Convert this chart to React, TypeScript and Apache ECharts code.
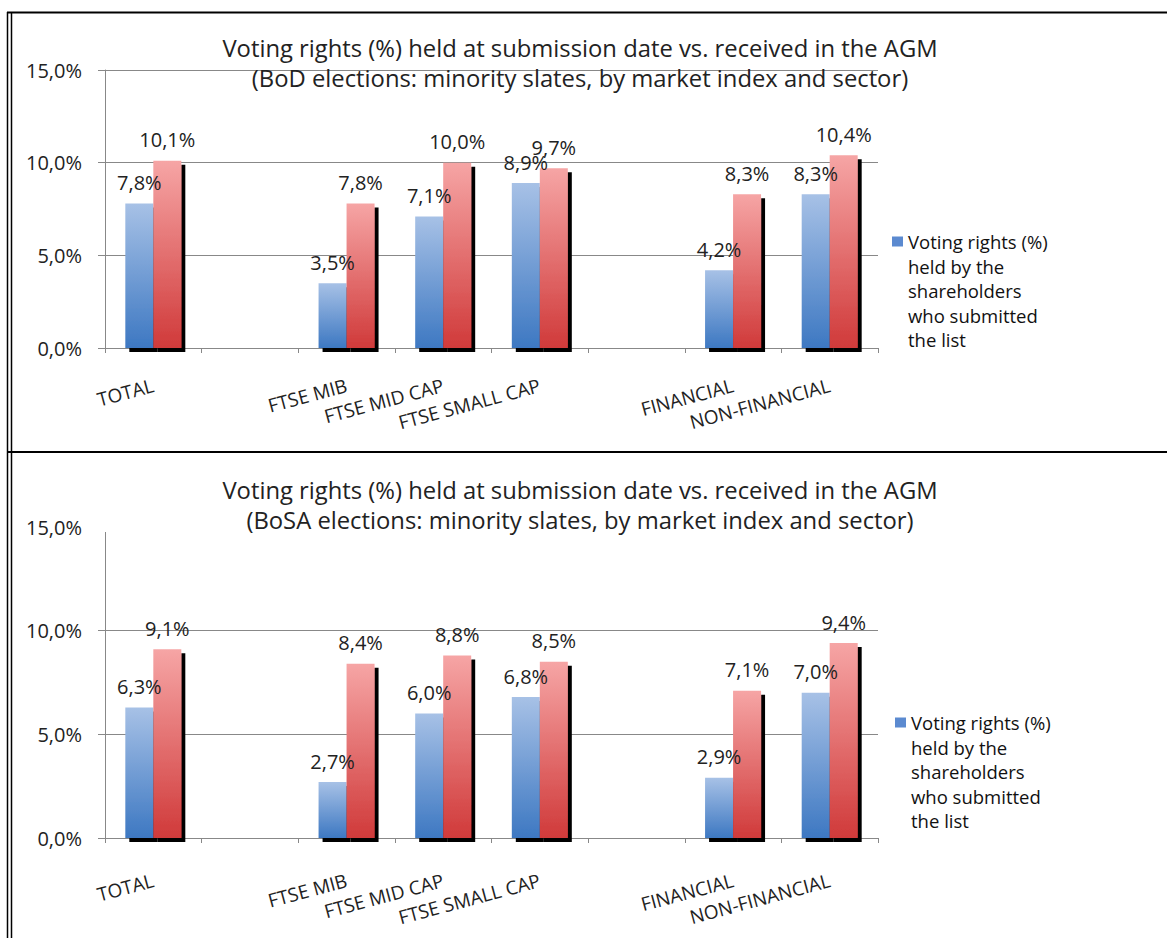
import React, { useEffect, useRef } from "react";
import * as echarts from "echarts";

const categories = ["TOTAL", "", "FTSE MIB", "FTSE MID CAP", "FTSE SMALL CAP", "", "FINANCIAL", "NON-FINANCIAL"];
const bodHeld = [7.8, "-", 3.5, 7.1, 8.9, "-", 4.2, 8.3];
const bodReceived = [10.1, "-", 7.8, 10.0, 9.7, "-", 8.3, 10.4];
const bosaHeld = [6.3, "-", 2.7, 6.0, 6.8, "-", 2.9, 7.0];
const bosaReceived = [9.1, "-", 8.4, 8.8, 8.5, "-", 7.1, 9.4];
const yMin = 0;
const yMax = 15;
const yStep = 5;
const titleMain = "Voting rights (%) held at submission date vs. received in the AGM";
const bodSubtitle = "(BoD elections: minority slates, by market index and sector)";
const bosaSubtitle = "(BoSA elections: minority slates, by market index and sector)";
const heldName = "Voting rights (%) held by the shareholders who submitted the list";
const heldLegendLines = ["Voting rights (%)", "held by the", "shareholders", "who submitted", "the list"];
const receivedName = "Voting rights (%) received in the AGM";

const FONT = "Open Sans";
const TXT = "#222";

const pct = (v: number) => v.toFixed(1).replace(".", ",") + "%";

const blueGrad = () =>
  new echarts.graphic.LinearGradient(0, 0, 0, 1, [
    { offset: 0, color: "#a7c1e6" },
    { offset: 1, color: "#3d78c2" },
  ]);
const redGrad = () =>
  new echarts.graphic.LinearGradient(0, 0, 0, 1, [
    { offset: 0, color: "#f6a5a5" },
    { offset: 1, color: "#d03a3a" },
  ]);

export default function App() {
  const ref = useRef<HTMLDivElement>(null);
  useEffect(() => {
    document.body.style.margin = "0";
    document.body.style.overflow = "hidden";
    const chart = echarts.init(ref.current!, null, { renderer: "svg" });

    const barSeries = (name: string, data: any[], idx: number, grad: any) => ({
      type: "bar",
      name,
      data,
      xAxisIndex: idx,
      yAxisIndex: idx,
      barWidth: 28,
      barGap: "0%",
      itemStyle: {
        color: grad,
        shadowColor: "#000",
        shadowBlur: 0,
        shadowOffsetX: 4,
        shadowOffsetY: 4,
      },
      emphasis: { disabled: true },
      label: {
        show: true,
        position: "top",
        distance: 11,
        fontSize: 20,
        fontFamily: FONT,
        color: TXT,
        formatter: (p: any) => pct(p.value),
      },
    });

    const xAxis = (idx: number, margin: number) => ({
      type: "category",
      gridIndex: idx,
      data: categories,
      axisLine: { lineStyle: { color: "#888", width: 1 } },
      axisTick: { show: true, length: 5, lineStyle: { color: "#888" } },
      axisLabel: {
        interval: 0,
        rotate: 15,
        margin,
        fontSize: 19,
        fontFamily: FONT,
        color: TXT,
      },
    });

    const yAxis = (idx: number) => ({
      type: "value",
      gridIndex: idx,
      min: yMin,
      max: yMax,
      interval: yStep,
      axisLine: { show: true, lineStyle: { color: "#888" } },
      axisTick: { show: true, length: 7, lineStyle: { color: "#888" } },
      splitLine: { lineStyle: { color: "#888", width: 1 } },
      axisLabel: {
        margin: 23,
        fontSize: 20,
        fontFamily: FONT,
        color: TXT,
        formatter: (v: number) => pct(v),
      },
    });

    const legendRich = {
      sq: { width: 11, height: 10, backgroundColor: "#5b8ad0" },
      t: { padding: [0, 0, 0, 5], fontSize: 18.5, lineHeight: 24.5, fontFamily: FONT, color: "#111" },
      i: { padding: [0, 0, 0, 16], fontSize: 18.5, lineHeight: 24.5, fontFamily: FONT, color: "#111" },
    };
    const legendFormatter = () =>
      heldLegendLines.map((l, k) => (k === 0 ? `{sq|}{t|${l}}` : `{i|${l}}`)).join("\n");

    const titleStyle = { fontSize: 23.8, fontWeight: "normal", fontFamily: FONT, color: TXT, lineHeight: 30 };

    chart.setOption({
      animation: false,
      backgroundColor: "#fff",
      title: [
        {
          text: titleMain + "\n" + bodSubtitle,
          left: 580,
          top: 33,
          textAlign: "center",
          padding: 0,
          z: 200,
          textStyle: titleStyle,
        },
        {
          text: titleMain + "\n" + bosaSubtitle,
          left: 580,
          top: 475,
          textAlign: "center",
          padding: 0,
          z: 200,
          textStyle: titleStyle,
        },
      ],
      legend: [
        {
          data: [heldName],
          left: 887,
          top: 232,
          padding: 0,
          icon: "none",
          itemWidth: 0,
          itemHeight: 0,
          selectedMode: false,
          formatter: legendFormatter,
          textStyle: { rich: legendRich },
        },
        {
          data: [heldName],
          left: 890,
          top: 713,
          padding: 0,
          icon: "none",
          itemWidth: 0,
          itemHeight: 0,
          selectedMode: false,
          formatter: legendFormatter,
          textStyle: { rich: legendRich },
        },
      ],
      grid: [
        { left: 105, right: 289, top: 70, bottom: 590 },
        { left: 105, right: 289, top: 527, bottom: 100 },
      ],
      xAxis: [xAxis(0, 37), xAxis(1, 42)],
      yAxis: [yAxis(0), yAxis(1)],
      series: [
        barSeries(heldName, bodHeld, 0, blueGrad()),
        barSeries(receivedName, bodReceived, 0, redGrad()),
        barSeries(heldName, bosaHeld, 1, blueGrad()),
        barSeries(receivedName, bosaReceived, 1, redGrad()),
      ],
      graphic: [
        { type: "rect", z: 100, shape: { x: 88, y: 455, width: 810, height: 77 }, style: { fill: "#fff" } },
        { type: "line", z: 150, shape: { x1: 7, y1: 12.5, x2: 1167, y2: 12.5 }, style: { stroke: "#000", lineWidth: 2 } },
        { type: "line", z: 150, shape: { x1: 7, y1: 452, x2: 1167, y2: 452 }, style: { stroke: "#000", lineWidth: 2 } },
        { type: "line", z: 150, shape: { x1: 7.5, y1: 12, x2: 7.5, y2: 938 }, style: { stroke: "#000", lineWidth: 1.5 } },
        { type: "line", z: 150, shape: { x1: 11.5, y1: 12, x2: 11.5, y2: 938 }, style: { stroke: "#000", lineWidth: 1.5 } },
      ],
    });
    return () => chart.dispose();
  }, []);
  return <div ref={ref} style={{ width: 1167, height: 938 }} />;
}
